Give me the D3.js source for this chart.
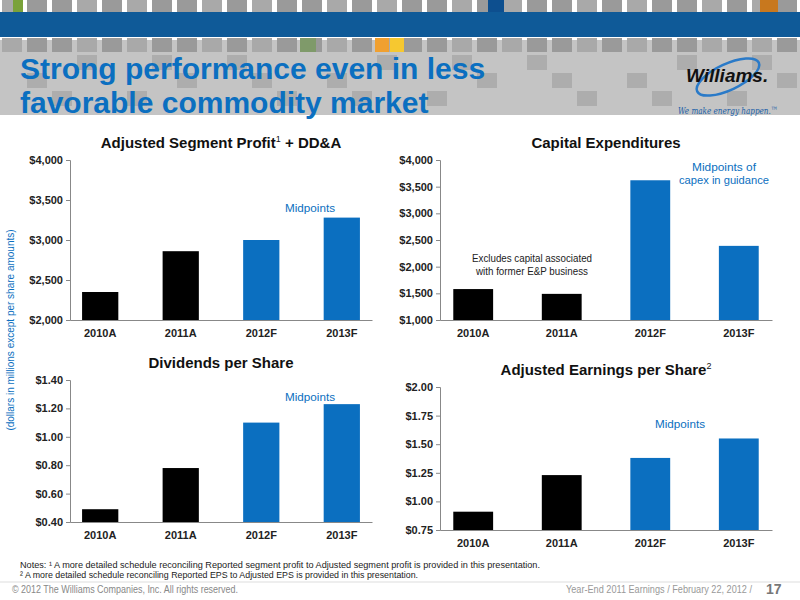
<html>
<body style="margin:0">
<svg id="slide" width="800" height="600"></svg>
<script src="https://d3js.org/d3.v7.min.js"></script>
<script>
var years = ["2010A","2011A","2012F","2013F"]
var actual = ["2010A","2011A"]

var segmentProfit = [2350, 2860, 3000, 3280]
var capex = [1580, 1490, 3620, 2390]
var dividends = [0.49, 0.78, 1.10, 1.23]
var eps = [0.91, 1.23, 1.38, 1.55]

var profitTicks = [2000, 2500, 3000, 3500, 4000]
var capexTicks = [1000, 1500, 2000, 2500, 3000, 3500, 4000]
var dividendTicks = [0.4, 0.6, 0.8, 1.0, 1.2, 1.4]
var epsTicks = [0.75, 1.0, 1.25, 1.5, 1.75, 2.0]

var blue = "#0b6fc0"
var font = "Liberation Sans, Arial"
var svg = d3.select("#slide")
svg.append("rect").attr("width",800).attr("height",600).attr("fill","white")

// header mosaic
var header = svg.append("g")
header.append("rect").attr("x",0).attr("y",40).attr("width",800).attr("height",75).attr("fill","#c4c4c4")
for (var i = 0; i < 33; i++)
{
    var shade = (i*7)%5 < 2 ? "#a9a9a9" : "#9a9a9a"
    header.append("rect").attr("x",i*25+2).attr("y",0).attr("width",20).attr("height",14).attr("fill",shade)
    header.append("rect").attr("x",i*25+2).attr("y",38).attr("width",20).attr("height",14).attr("fill",shade)
    if ((i*3)%4 != 0)
        header.append("rect").attr("x",i*25+2).attr("y",55+(i%3)*18).attr("width",20).attr("height",15).attr("fill","#adadad")
}
header.append("rect").attr("x",13).attr("y",0).attr("width",10).attr("height",14).attr("fill","#7aa23a")
header.append("rect").attr("x",488).attr("y",0).attr("width",16).attr("height",14).attr("fill","#0d4f8f")
header.append("rect").attr("x",300).attr("y",38).attr("width",16).attr("height",14).attr("fill","#7f9a6a")
header.append("rect").attr("x",375).attr("y",38).attr("width",14).attr("height",14).attr("fill","#f0a030")
header.append("rect").attr("x",390).attr("y",38).attr("width",14).attr("height",14).attr("fill","#f6c830")
header.append("rect").attr("x",760).attr("y",0).attr("width",18).attr("height",14).attr("fill","#c8781e")
header.append("rect").attr("x",0).attr("y",12).attr("width",800).attr("height",25).attr("fill","#0f5a98")
header.append("rect").attr("x",0).attr("y",116).attr("width",800).attr("height",10).attr("fill","white")

svg.append("text").attr("x",20).attr("y",79).text("Strong performance even in less")
    .attr("font-family",font).attr("font-weight","bold").attr("font-size",30).attr("fill",blue)
svg.append("text").attr("x",20).attr("y",113).text("favorable commodity market")
    .attr("font-family",font).attr("font-weight","bold").attr("font-size",30).attr("fill",blue)
svg.append("ellipse").attr("cx",728).attr("cy",77).attr("rx",34).attr("ry",13).attr("transform","rotate(-25,728,77)")
    .attr("fill","none").attr("stroke","#2a7ac8").attr("stroke-width",2.5)
svg.append("text").attr("x",686).attr("y",82).text("Williams.").attr("font-family",font)
    .attr("font-style","italic").attr("font-weight","bold").attr("font-size",19).attr("fill","#111")
svg.append("text").attr("x",678).attr("y",114).text("We make energy happen.™").attr("font-family","DejaVu Serif")
    .attr("font-style","italic").attr("font-size",10).attr("fill","#1a5fa8")
    .attr("textLength",100).attr("lengthAdjust","spacingAndGlyphs")

var drawChart = function(opts)
{
    var x = d3.scaleBand().domain(years).range([opts.left, opts.right]).paddingInner(0.55).paddingOuter(0.15)
    var y = d3.scaleLinear().domain([opts.ticks[0], opts.ticks[opts.ticks.length-1]]).range([opts.bottom, opts.top])
    var g = svg.append("g")

    g.selectAll("rect.bar").data(opts.values).enter().append("rect")
        .attr("x",function(d,i){return x(years[i])})
        .attr("y",function(d){return y(d)})
        .attr("width",x.bandwidth())
        .attr("height",function(d){return opts.bottom - y(d)})
        .attr("fill",function(d,i){return actual.indexOf(years[i]) >= 0 ? "black" : blue})

    g.append("g").attr("transform","translate("+opts.left+",0)")
        .call(d3.axisLeft(y).tickValues(opts.ticks).tickSize(4).tickFormat(opts.format))
    g.append("g").attr("transform","translate(0,"+opts.bottom+")")
        .call(d3.axisBottom(x).tickSize(0).tickPadding(9))
    g.selectAll(".domain").attr("stroke","#888")
    g.selectAll(".tick line").attr("stroke","#888")
    g.selectAll(".tick text").attr("font-family",font).attr("font-weight","bold").attr("font-size",11).attr("fill","#222")

    var t = g.append("text").attr("x",(opts.left+opts.right)/2).attr("y",opts.top-12)
        .attr("text-anchor","middle").attr("font-family",font).attr("font-weight","bold").attr("font-size",15).attr("fill","#111")
    t.append("tspan").text(opts.title)
    if (opts.sup)
    {
        t.append("tspan").text(opts.sup).attr("font-size",9).attr("font-weight","normal").attr("dy",-6)
        if (opts.after) t.append("tspan").text(opts.after).attr("dy",6)
    }
    opts.notes.forEach(function(n)
    {
        g.append("text").attr("x",n[0]).attr("y",n[1]).text(n[2]).attr("text-anchor","middle")
            .attr("font-family",font).attr("font-size",11).attr("fill",n[3])
            .attr("textLength",n[4]).attr("lengthAdjust","spacingAndGlyphs")
    })
}

var dollars = function(d){return "$"+d3.format(",")(d)}
var cents = function(d){return "$"+d3.format(".2f")(d)}

drawChart({left:70, right:372, top:160, bottom:320, values:segmentProfit, ticks:profitTicks, format:dollars,
    title:"Adjusted Segment Profit", sup:"1", after:" + DD&A", notes:[[310,212,"Midpoints",blue,50]]})
drawChart({left:440, right:772, top:160, bottom:320, values:capex, ticks:capexTicks, format:dollars,
    title:"Capital Expenditures", notes:[[724,171,"Midpoints of",blue,64],[724,184,"capex in guidance",blue,90],
    [532,262,"Excludes capital associated","#222",120],[532,275,"with former E&P business","#222",112]]})
drawChart({left:70, right:372, top:380, bottom:522, values:dividends, ticks:dividendTicks, format:cents,
    title:"Dividends per Share", notes:[[310,401,"Midpoints",blue,50]]})
drawChart({left:440, right:772, top:387, bottom:530, values:eps, ticks:epsTicks, format:cents,
    title:"Adjusted Earnings per Share", sup:"2", notes:[[680,428,"Midpoints",blue,50]]})

svg.append("text").attr("transform","translate(14,330) rotate(-90)").attr("text-anchor","middle")
    .text("(dollars in millions except per share amounts)").attr("font-family",font).attr("font-size",10).attr("fill",blue)

var notes = svg.append("g").attr("font-family",font).attr("font-size",9).attr("fill","#222")
notes.append("text").attr("x",20).attr("y",568).text("Notes:  \u00b9  A more detailed schedule reconciling Reported segment profit to Adjusted segment profit is provided in this presentation.")
    .attr("textLength",520).attr("lengthAdjust","spacingAndGlyphs")
notes.append("text").attr("x",20).attr("y",578).text("\u00b2 A more detailed schedule reconciling Reported EPS to Adjusted EPS is provided in this presentation.")
    .attr("textLength",398).attr("lengthAdjust","spacingAndGlyphs")
svg.append("line").attr("x1",0).attr("x2",800).attr("y1",582).attr("y2",582).attr("stroke","#ddd")
svg.append("text").attr("x",12).attr("y",593).text("\u00a9 2012 The Williams Companies, Inc. All rights reserved.")
    .attr("font-family",font).attr("font-size",10).attr("fill","#888").attr("textLength",226).attr("lengthAdjust","spacingAndGlyphs")
svg.append("text").attr("x",752).attr("y",593).attr("text-anchor","end").text("Year-End 2011 Earnings / February 22, 2012 /")
    .attr("font-family",font).attr("font-size",10).attr("fill","#999").attr("textLength",186).attr("lengthAdjust","spacingAndGlyphs")
svg.append("text").attr("x",766).attr("y",594).text("17")
    .attr("font-family",font).attr("font-weight","bold").attr("font-size",14).attr("fill","#777")
</script>
</body>
</html>
